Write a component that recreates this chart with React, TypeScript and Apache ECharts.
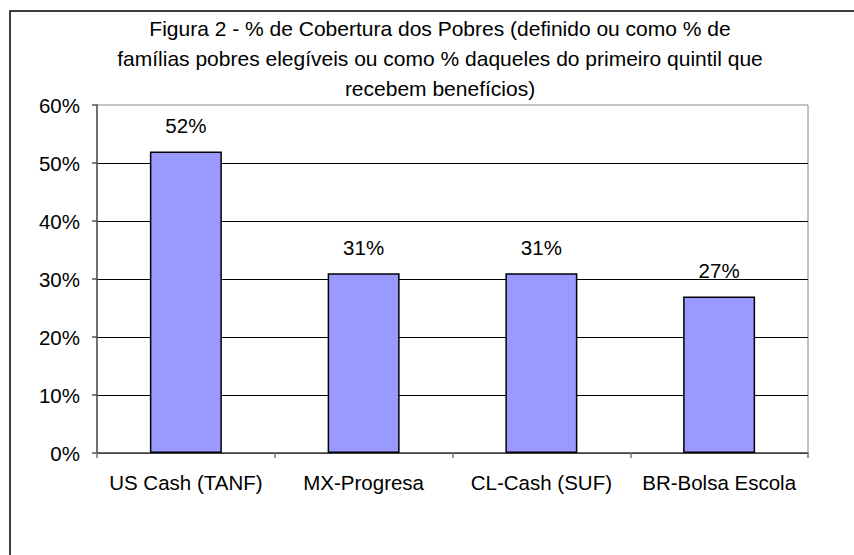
import React, { useEffect, useRef } from "react";
import * as echarts from "echarts";

const categories = ["US Cash (TANF)", "MX-Progresa", "CL-Cash (SUF)", "BR-Bolsa Escola"];
const values = [52, 31, 31, 27];
const titleLines = [
  "Figura 2 - % de Cobertura dos Pobres (definido ou como % de",
  "famílias pobres elegíveis ou como % daqueles do primeiro quintil que",
  "recebem benefícios)",
];

export default function App() {
  const ref = useRef<HTMLDivElement>(null);
  useEffect(() => {
    const chart = echarts.init(ref.current!, null, { renderer: "svg" });
    const font = "Liberation Sans, Arial, sans-serif";
    chart.setOption({
      animation: false,
      backgroundColor: "#fff",
      textStyle: { fontFamily: font },
      graphic: [
        {
          type: "rect",
          shape: { x: 10, y: 11, width: 1000, height: 700 },
          style: { fill: "none", stroke: "#000", lineWidth: 1.5 },
          silent: true,
        },
        {
          type: "text",
          x: 440,
          y: 13,
          style: {
            text: titleLines.join("\n"),
            textAlign: "center",
            fontSize: 21,
            lineHeight: 30,
            fontFamily: font,
            fill: "#000",
          },
        },
      ],
      grid: {
        left: 97,
        top: 105,
        right: 46,
        bottom: 102,
        show: true,
        borderColor: "#888",
        borderWidth: 1,
        backgroundColor: "transparent",
      },
      xAxis: {
        type: "category",
        data: categories,
        axisLine: { lineStyle: { color: "#555", width: 1.5 } },
        axisTick: { show: true, length: 5, lineStyle: { color: "#777", width: 1.5 } },
        axisLabel: { fontSize: 20.5, color: "#000", margin: 19, fontFamily: font, interval: 0, hideOverlap: false },
      },
      yAxis: {
        type: "value",
        min: 0,
        max: 60,
        interval: 10,
        axisLine: { show: true, lineStyle: { color: "#555", width: 1.5 } },
        axisTick: { show: true, length: 5, lineStyle: { color: "#555", width: 1.5 } },
        axisLabel: { fontSize: 20.5, color: "#000", margin: 17, formatter: "{value}%", fontFamily: font },
        splitLine: { show: true, showMaxLine: false, lineStyle: { color: "#000", width: 1 } },
      },
      series: [
        {
          type: "bar",
          data: values,
          barWidth: "40.5%",
          itemStyle: { color: "#9999FF", borderColor: "#000", borderWidth: 1.5 },
          label: {
            show: true,
            position: "top",
            distance: 15,
            formatter: "{c}%",
            fontSize: 20.5,
            color: "#000",
            fontFamily: font,
          },
        },
      ],
    });
    return () => chart.dispose();
  }, []);
  return (
    <div
      ref={ref}
      style={{ position: "fixed", left: 0, top: 0, width: 854, height: 555 }}
    />
  );
}
